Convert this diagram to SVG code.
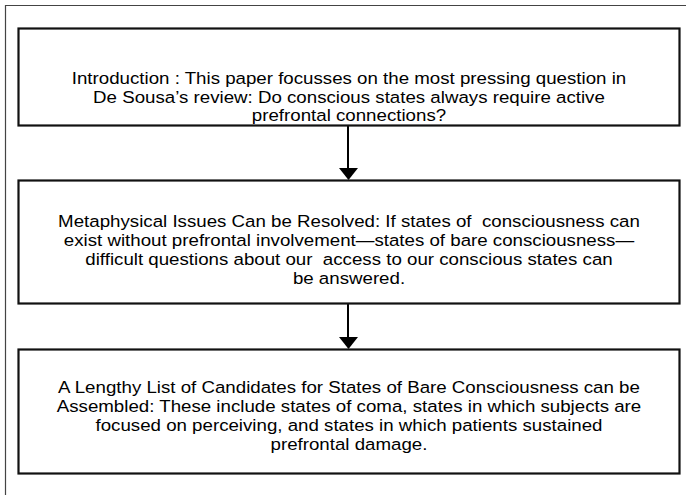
<svg xmlns="http://www.w3.org/2000/svg" width="686" height="495" viewBox="0 0 686 495">
<defs>
<style>
.box{fill:#fff;stroke:#111;stroke-width:2.2}
.t{font-family:"Liberation Sans",Arial,sans-serif;font-size:17px;fill:#000;text-anchor:middle;white-space:pre}
.c{stroke:#000;stroke-width:2;fill:none}
</style>
</defs>
<rect width="686" height="495" fill="#fff"/>
<path d="M5.5,495 V5.5 H686" fill="none" stroke="#444" stroke-width="1.2"/>
<g id="connectors">
<line class="c" x1="348" y1="126" x2="348" y2="168"/>
<polygon points="339,168 358,168 348.5,180" fill="#000"/>
<line class="c" x1="348" y1="304" x2="348" y2="337"/>
<polygon points="339,337 358,337 348.5,349" fill="#000"/>
</g>
<g id="n1">
<rect class="box" x="18.5" y="28.5" width="661" height="97"/>
<g transform="translate(349,0) scale(1.1,1) translate(-349,0)">
<text class="t" x="349" y="84">Introduction : This paper focusses on the most pressing question in</text>
<text class="t" x="349" y="103">De Sousa’s review: Do conscious states always require active</text>
<text class="t" x="349" y="121.5">prefrontal connections?</text>
</g>
</g>
<g id="n2">
<rect class="box" x="18.5" y="180.5" width="661" height="123"/>
<g transform="translate(349,0) scale(1.1,1) translate(-349,0)">
<text class="t" x="349" y="227" xml:space="preserve">Metaphysical Issues Can be Resolved: If states of  consciousness can</text>
<text class="t" x="349" y="246">exist without prefrontal involvement—states of bare consciousness—</text>
<text class="t" x="349" y="265" xml:space="preserve">difficult questions about our  access to our conscious states can</text>
<text class="t" x="349" y="284">be answered.</text>
</g>
</g>
<g id="n3">
<rect class="box" x="18.5" y="349.5" width="661" height="124"/>
<g transform="translate(349,0) scale(1.1,1) translate(-349,0)">
<text class="t" x="349" y="393.5">A Lengthy List of Candidates for States of Bare Consciousness can be</text>
<text class="t" x="349" y="412">Assembled: These include states of coma, states in which subjects are</text>
<text class="t" x="349" y="431">focused on perceiving, and states in which patients sustained</text>
<text class="t" x="349" y="450">prefrontal damage.</text>
</g>
</g>
</svg>
